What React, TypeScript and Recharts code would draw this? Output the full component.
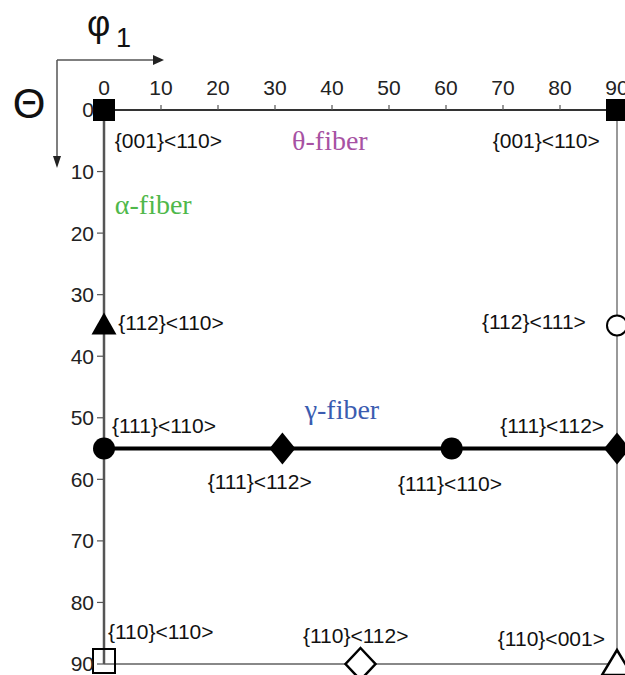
import React from 'react';
import { ScatterChart, Scatter, XAxis, YAxis, ReferenceLine } from 'recharts';

// Axis ticks (Euler angles, degrees)
const phiTicks = [0, 10, 20, 30, 40, 50, 60, 70, 80, 90];
const thetaTicks = [0, 10, 20, 30, 40, 50, 60, 70, 80, 90];
const bottomTicks = [20, 50, 80];
const rightTicks = [40];

// Ideal orientations (phi1, Theta)
const filledSquares = [{ x: 0, y: 0 }, { x: 90, y: 0 }];
const filledTriangles = [{ x: 0, y: 35 }];
const filledCircles = [{ x: 0, y: 55 }, { x: 61, y: 55 }];
const filledDiamonds = [{ x: 31.3, y: 55 }, { x: 90, y: 55 }];
const openCircles = [{ x: 90, y: 35 }];
const openSquares = [{ x: 0, y: 90 }];
const openDiamonds = [{ x: 45, y: 90 }];
const openTriangles = [{ x: 90, y: 90 }];

const gammaFiberTheta = 55;

// Orientation annotations, anchored at (phi1, Theta)
const orientationLabels = [
  { text: '{001}<110>', x: 1.9, y: 5.0 },
  { text: '{001}<110>', x: 68.2, y: 4.9 },
  { text: '{112}<110>', x: 2.5, y: 34.6 },
  { text: '{112}<111>', x: 66.3, y: 34.4 },
  { text: '{111}<110>', x: 1.4, y: 51.2 },
  { text: '{111}<112>', x: 69.5, y: 51.2 },
  { text: '{111}<112>', x: 18.2, y: 60.4 },
  { text: '{111}<110>', x: 51.6, y: 60.6 },
  { text: '{110}<110>', x: 0.7, y: 84.8 },
  { text: '{110}<112>', x: 34.9, y: 85.3 },
  { text: '{110}<001>', x: 69.1, y: 85.8 },
];

const fiberLabels = [
  { text: 'θ-fiber', x: 33.0, y: 4.9, color: '#a752a3' },
  { text: 'α-fiber', x: 1.9, y: 15.3, color: '#4fb84a' },
  { text: 'γ-fiber', x: 35.2, y: 48.7, color: '#3b5cb0' },
];

const FONT = '"Liberation Sans", Arial, sans-serif';
const SERIF = '"Liberation Serif", "Times New Roman", serif';

const FilledSquare = (p: any) => (
  <rect x={p.cx - 11} y={p.cy - 11} width={22} height={22} fill="#000" />
);
const FilledTriangle = (p: any) => (
  <polygon points={`${p.cx},${p.cy - 13} ${p.cx - 12.5},${p.cy + 9} ${p.cx + 12.5},${p.cy + 9}`} fill="#000" />
);
const FilledCircle = (p: any) => <circle cx={p.cx} cy={p.cy} r={11} fill="#000" />;
const FilledDiamond = (p: any) => (
  <polygon points={`${p.cx},${p.cy - 16} ${p.cx + 13},${p.cy} ${p.cx},${p.cy + 16} ${p.cx - 13},${p.cy}`} fill="#000" />
);
const OpenCircle = (p: any) => (
  <circle cx={p.cx} cy={p.cy} r={10} fill="#fff" stroke="#000" strokeWidth={2} />
);
const OpenSquare = (p: any) => (
  <rect x={p.cx - 11} y={p.cy - 15} width={22} height={24} fill="none" stroke="#000" strokeWidth={2} />
);
const OpenDiamond = (p: any) => (
  <polygon points={`${p.cx},${p.cy - 16} ${p.cx + 15},${p.cy} ${p.cx},${p.cy + 16} ${p.cx - 15},${p.cy}`} fill="#fff" stroke="#000" strokeWidth={2.5} />
);
const OpenTriangle = (p: any) => (
  <polygon points={`${p.cx},${p.cy - 14} ${p.cx - 15},${p.cy + 11} ${p.cx + 15},${p.cy + 11}`} fill="#fff" stroke="#000" strokeWidth={2.5} />
);
const OrientationText = (p: any) => (
  <text x={p.cx} y={p.cy} dominantBaseline="central" textAnchor="start" fontFamily={FONT} fontSize={21} fill="#111">
    {p.payload.text}
  </text>
);
const FiberText = (p: any) => (
  <text x={p.cx} y={p.cy} dominantBaseline="central" textAnchor="start" fontFamily={SERIF} fontSize={28} fill={p.payload.color}>
    {p.payload.text}
  </text>
);

export default function App() {
  return (
    <div style={{ position: 'absolute', left: 0, top: 0, width: 625, height: 675, background: '#fff' }}>
      <ScatterChart width={625} height={675} margin={{ top: 70, left: 64, right: 8, bottom: 11 }}>
        <XAxis
          type="number"
          dataKey="x"
          orientation="top"
          domain={[0, 90]}
          ticks={phiTicks}
          height={40}
          axisLine={{ stroke: '#333', strokeWidth: 2 }}
          tickLine={{ stroke: '#555', strokeWidth: 1.2 }}
          tickSize={5}
          tickMargin={10}
          tick={{ fontFamily: FONT, fontSize: 21, fill: '#222' }}
          interval={0}
        />
        <XAxis
          xAxisId="bottom"
          type="number"
          orientation="bottom"
          domain={[0, 90]}
          ticks={bottomTicks}
          height={11}
          mirror
          tick={false}
          axisLine={{ stroke: '#888', strokeWidth: 2 }}
          tickLine={{ stroke: '#777', strokeWidth: 1.2 }}
          tickSize={5}
        />
        <YAxis
          type="number"
          dataKey="y"
          domain={[0, 90]}
          reversed
          ticks={thetaTicks}
          width={40}
          axisLine={{ stroke: '#555', strokeWidth: 2.5 }}
          tickLine={{ stroke: '#555', strokeWidth: 1.2 }}
          tickSize={7}
          tickMargin={3}
          tick={{ fontFamily: FONT, fontSize: 21, fill: '#222' }}
          interval={0}
        />
        <YAxis
          yAxisId="right"
          type="number"
          orientation="right"
          domain={[0, 90]}
          reversed
          ticks={rightTicks}
          width={8}
          mirror
          tick={false}
          axisLine={{ stroke: '#777', strokeWidth: 1.5 }}
          tickLine={{ stroke: '#888', strokeWidth: 1.2 }}
          tickSize={5}
        />
        <ReferenceLine y={gammaFiberTheta} stroke="#000" strokeWidth={4} />
        <Scatter data={orientationLabels} shape={OrientationText} isAnimationActive={false} />
        <Scatter data={fiberLabels} shape={FiberText} isAnimationActive={false} />
        <Scatter data={filledSquares} shape={FilledSquare} isAnimationActive={false} />
        <Scatter data={filledTriangles} shape={FilledTriangle} isAnimationActive={false} />
        <Scatter data={filledCircles} shape={FilledCircle} isAnimationActive={false} />
        <Scatter data={filledDiamonds} shape={FilledDiamond} isAnimationActive={false} />
        <Scatter data={openCircles} shape={OpenCircle} isAnimationActive={false} />
        <Scatter data={openSquares} shape={OpenSquare} isAnimationActive={false} />
        <Scatter data={openDiamonds} shape={OpenDiamond} isAnimationActive={false} />
        <Scatter data={openTriangles} shape={OpenTriangle} isAnimationActive={false} />
      </ScatterChart>
      <svg width={625} height={675} style={{ position: 'absolute', left: 0, top: 0, pointerEvents: 'none' }}>
        <line x1={57} y1={60} x2={154} y2={60} stroke="#555" strokeWidth={1.5} />
        <polygon points="164,60 153,55 153,65" fill="#222" />
        <line x1={57} y1={60} x2={57} y2={157} stroke="#555" strokeWidth={1.5} />
        <polygon points="57,168 53,156 61,156" fill="#222" />
        <text x={87} y={36} fontFamily={FONT} fontSize={36} fill="#111">
          φ<tspan x={116} y={47} fontSize={27}>1</tspan>
        </text>
        <text x={29} y={118} textAnchor="middle" fontFamily={FONT} fontSize={42} fill="#111">Θ</text>
      </svg>
    </div>
  );
}
